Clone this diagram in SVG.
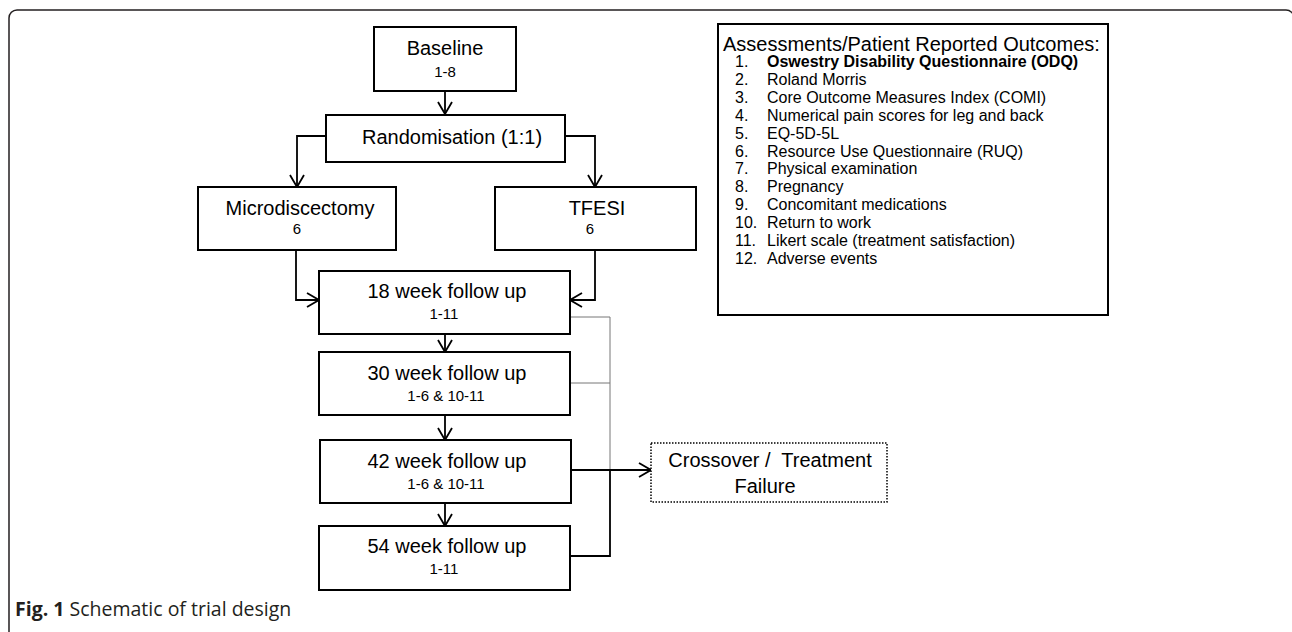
<svg xmlns="http://www.w3.org/2000/svg" width="1292" height="632" viewBox="0 0 1292 632">
<defs>
<marker id="arr" viewBox="0 0 14 16" refX="13" refY="8" markerWidth="14" markerHeight="16" markerUnits="userSpaceOnUse" orient="auto">
<path d="M1,1 L13,8 L1,15" fill="none" stroke="#000" stroke-width="1.8"/>
</marker>
<style>
.box{fill:#fff;stroke:#000;stroke-width:2}
.t{font-family:"Liberation Sans",Arial,sans-serif;font-size:20px;fill:#000;text-anchor:middle}
.s{font-family:"Liberation Sans",Arial,sans-serif;font-size:15px;fill:#000;text-anchor:middle}
.l{font-family:"Liberation Sans",Arial,sans-serif;font-size:16px;fill:#000}
.c{fill:none;stroke:#000;stroke-width:1.8}
.g{fill:none;stroke:#777;stroke-width:1}
</style>
</defs>
<rect width="1292" height="632" fill="#fff"/>
<rect id="frame" x="9" y="10" width="1285" height="660" rx="8" ry="8" fill="none" stroke="#231f20" stroke-width="1.5"/>

<g id="connectors">
<path class="c" d="M445,91 V114" marker-end="url(#arr)"/>
<path class="c" d="M326,136 H297 V187" marker-end="url(#arr)"/>
<path class="c" d="M565,136 H595 V187" marker-end="url(#arr)"/>
<path class="c" d="M296,250 V300 H319" marker-end="url(#arr)"/>
<path class="c" d="M595,250 V300 H570" marker-end="url(#arr)"/>
<path class="c" d="M445,334 V352" marker-end="url(#arr)"/>
<path class="c" d="M445,415 V440" marker-end="url(#arr)"/>
<path class="c" d="M445,503 V526" marker-end="url(#arr)"/>
<path class="g" d="M570,317 H610 V470"/>
<path class="g" d="M570,383 H610"/>
<path class="c" d="M571,556 H610 V470"/>
<path class="c" d="M571,470 H651" marker-end="url(#arr)"/>
</g>

<g id="baseline">
<rect class="box" x="374" y="27" width="142" height="64"/>
<text class="t" x="445" y="55">Baseline</text>
<text class="s" x="445" y="77">1-8</text>
</g>
<g id="randomisation">
<rect class="box" x="326" y="115" width="239" height="47"/>
<text class="t" x="452" y="144">Randomisation (1:1)</text>
</g>
<g id="microdiscectomy">
<rect class="box" x="198" y="187" width="198" height="63"/>
<text class="t" x="300" y="215">Microdiscectomy</text>
<text class="s" x="297" y="234">6</text>
</g>
<g id="tfesi">
<rect class="box" x="495" y="187" width="201" height="63"/>
<text class="t" x="597" y="215">TFESI</text>
<text class="s" x="590" y="234">6</text>
</g>
<g id="week18">
<rect class="box" x="319" y="271" width="251" height="63"/>
<text class="t" x="447" y="298">18 week follow up</text>
<text class="s" x="444" y="319">1-11</text>
</g>
<g id="week30">
<rect class="box" x="319" y="352" width="251" height="63"/>
<text class="t" x="447" y="380">30 week follow up</text>
<text class="s" x="446" y="401">1-6 &amp; 10-11</text>
</g>
<g id="week42">
<rect class="box" x="320" y="440" width="251" height="63"/>
<text class="t" x="447" y="468">42 week follow up</text>
<text class="s" x="446" y="489">1-6 &amp; 10-11</text>
</g>
<g id="week54">
<rect class="box" x="319" y="526" width="251" height="64"/>
<text class="t" x="447" y="553">54 week follow up</text>
<text class="s" x="444" y="574">1-11</text>
</g>
<g id="crossover">
<rect x="651" y="443" width="236" height="59" fill="#fff" stroke="#000" stroke-width="1.5" stroke-dasharray="1.5,1.5"/>
<text class="t" x="770" y="467" style="white-space:pre">Crossover /  Treatment</text>
<text class="t" x="765" y="493">Failure</text>
</g>
<g id="assessments">
<rect class="box" x="718" y="24" width="390" height="291"/>
<text class="l" x="723" y="51" style="font-size:20px">Assessments/Patient Reported Outcomes:</text>
<g class="l">
<text x="735" y="67">1.</text><text x="767" y="67" font-weight="bold">Oswestry Disability Questionnaire (ODQ)</text>
<text x="735" y="85">2.</text><text x="767" y="85">Roland Morris</text>
<text x="735" y="103">3.</text><text x="767" y="103">Core Outcome Measures Index (COMI)</text>
<text x="735" y="121">4.</text><text x="767" y="121">Numerical pain scores for leg and back</text>
<text x="735" y="139">5.</text><text x="767" y="139">EQ-5D-5L</text>
<text x="735" y="157">6.</text><text x="767" y="157">Resource Use Questionnaire (RUQ)</text>
<text x="735" y="174">7.</text><text x="767" y="174">Physical examination</text>
<text x="735" y="192">8.</text><text x="767" y="192">Pregnancy</text>
<text x="735" y="210">9.</text><text x="767" y="210">Concomitant medications</text>
<text x="735" y="228">10.</text><text x="767" y="228">Return to work</text>
<text x="735" y="246">11.</text><text x="767" y="246">Likert scale (treatment satisfaction)</text>
<text x="735" y="264">12.</text><text x="767" y="264">Adverse events</text>
</g>
</g>
<text id="caption" x="15" y="616" font-family="'Open Sans','Noto Sans',sans-serif" font-size="19.5" fill="#231f20"><tspan font-weight="bold">Fig. 1</tspan> Schematic of trial design</text>
</svg>
